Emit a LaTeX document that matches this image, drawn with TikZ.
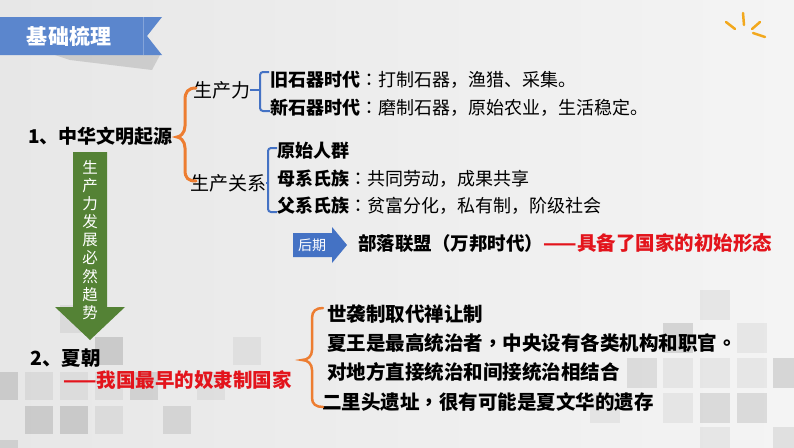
\documentclass[tikz,border=0pt]{standalone}
\usepackage{fontspec}
\setmainfont{Noto Sans CJK SC}
\newfontfamily\tcfont{Noto Sans CJK SC}[Script=CJK, Language=Chinese Traditional]
\usetikzlibrary{positioning,calc}
\definecolor{bgleft}{HTML}{E7E7E7}
\definecolor{bgright}{HTML}{F4F4F4}
\definecolor{bannerblue}{HTML}{5B86CD}
\definecolor{braceorange}{HTML}{ED7D31}
\definecolor{braceblue}{HTML}{4472C4}
\definecolor{arrowgreen}{HTML}{548235}
\definecolor{redc}{HTML}{E3141C}
\definecolor{sparkc}{HTML}{F2A81D}
\tikzset{
  txt/.style={anchor=west, inner sep=0pt},
  hd/.style={txt, font=\bfseries\fontsize{19}{19}\selectfont},
  sub/.style={txt, font=\fontsize{19}{19}\selectfont},
  item/.style={txt, font=\fontsize{18}{18}\selectfont},
  xia/.style={txt, font=\bfseries\fontsize{19.5}{19.5}\selectfont},
  redtxt/.style={txt, text=redc, font=\bfseries\fontsize{19.5}{19.5}\selectfont},
  obrace/.style={draw=braceorange, line width=3pt, line cap=round},
  bbrace/.style={draw=braceblue, line width=2pt, rounded corners=3pt}
}
\begin{document}
\begin{tikzpicture}[x=1pt,y=-1pt]
  \useasboundingbox (0,0) rectangle (794,447);
  % background and squares
  \shade[left color=bgleft, right color=bgright] (0,0) rectangle (794,447);
  \foreach \x/\y/\o in {25/372/.06, 60/305/.06, 95/337/.13, -10/372/.12, 60/372/.05,
      95/372/.05, 130/372/.10, 197/372/.05, 25/406/.12, 60/406/.13, 95/406/.06,
      163/406/.09, -10/440/.10, 233/337/.05}
    \fill[black, opacity=\o] (\x,\y) rectangle ++(28,28);
  \foreach \x/\y/\o in {700/290/.05, 663/323/.12, 737/323/.05, 627/358/.09, 663/358/.05,
      700/358/.05, 737/358/.05, 773/358/.12, 590/393/.05, 663/393/.05, 700/393/.10,
      737/393/.10, 700/427/.05, 773/427/.08}
    \fill[black, opacity=\o] (\x,\y) rectangle ++(30,30);
  % title banner
  \fill[black, opacity=.12] (55,55) -- (160,55) -- (152,70) -- (70,60) -- cycle;
  \fill[bannerblue] (0,17) -- (162,17) -- (147,36) -- (162,55) -- (0,55) -- cycle;
  \draw[white, opacity=.25, line width=.8pt] (143,17) -- (143,55);
  \node[font=\bfseries\fontsize{21}{21}\selectfont, text=white, inner sep=0pt] (title) at (69,36) {基础梳理};
  % sparkle
  \foreach \a/\b in {{(726,22)}/{(735,29)}, {(743,13)}/{(744,25)}, {(752,29)}/{(760,22)}, {(753,33)}/{(765,37)}}
    \draw[sparkc, line width=2.5pt, line cap=round] \a -- \b;
  % part 1
  \node[hd] (origin) at (28,136) {1、中华文明起源};
  \node[sub] (scl) at (193,90) {生产力};
  \node[sub] (scgx) at (190,183) {生产关系};
  \node[item] (jsq) at (270,80) {{\bfseries 旧石器时代}{\tcfont ：}打制石器，渔猎、采集。};
  \node[item] (xsq) at (270,108) {{\bfseries 新石器时代}{\tcfont ：}磨制石器，原始农业，生活稳定。};
  \node[item] (ysrq) at (277,151) {\bfseries 原始人群};
  \node[item] (mxsz) at (277,179) {{\bfseries 母系氏族}{\tcfont ：}共同劳动，成果共享};
  \node[item] (fxsz) at (277,206) {{\bfseries 父系氏族}{\tcfont ：}贫富分化，私有制，阶级社会};
  % braces of part 1
  \draw[obrace] ($(scl.west)+(3,-2)$) .. controls (188,88) and (185,92) .. (185,100) -- (185,126)
    .. controls (185,133) and (180,137) .. ($(origin.east)+(4,1)$)
    .. controls (180,137) and (185,141) .. (185,148) -- (185,170)
    .. controls (185,178) and (188,181) .. ($(scgx.west)+(6,-2)$);
  \coordinate (b1) at ($(jsq.west)+(-10,0)$);
  \draw[bbrace] ($(jsq.west)+(-1,-8)$) -| ($(xsq.west)+(-10,3)$) -- ($(xsq.west)+(0,3)$);
  \draw[braceblue, line width=2pt] (scl.east) -- (scl.east -| b1);
  \coordinate (b2) at ($(ysrq.west)+(-9,0)$);
  \draw[bbrace] ($(ysrq.west)+(0,-3)$) -| ($(fxsz.west)+(-9,6)$) -- ($(fxsz.west)+(0,6)$);
  \draw[braceblue, line width=2pt] (scgx.east) -- (scgx.east -| b2);
  % later period
  \fill[braceblue] (293,233) -- (332,233) -- (332,227) -- (347,245) -- (332,263) -- (332,257) -- (293,257) -- cycle;
  \node[text=white, inner sep=0pt, font=\fontsize{14}{14}\selectfont] (hq) at (312,245) {后期};
  \node[hd, font=\bfseries\fontsize{18.5}{18.5}\selectfont] (blm) at (358,243) {部落联盟（万邦时代）};
  \node[redtxt, right=0pt of blm] (gjxt) {——具备了国家的初始形态};
  % trend arrow
  \fill[arrowgreen] (73,152) -- (107,152) -- (107,307) -- (125,307) -- (90,340) -- (55,307) -- (73,307) -- cycle;
  \node[text=white, inner sep=0pt, align=center, font=\fontsize{15.5}{18.1}\selectfont] (trend) at (90,240)
    {生\\产\\力\\发\\展\\必\\然\\趋\\势};
  % part 2
  \node[hd, font=\bfseries\fontsize{19.5}{19.5}\selectfont] (xc) at (30,358) {2、夏朝};
  \node[redtxt] (xdef) at (63,380) {——我国最早的奴隶制国家};
  \node[xia] (x1) at (327,314) {世袭制取代禅让制};
  \node[xia] (x2) at (327,343) {夏王是最高统治者{\tcfont ，}中央设有各类机构和职官{\tcfont 。}};
  \node[xia] (x3) at (327,372) {对地方直接统治和间接统治相结合};
  \node[xia] (x4) at (322,402) {二里头遗址{\tcfont ，}很有可能是夏文华的遗存};
  \draw[obrace, line width=2.5pt] ($(x1.west)+(-4,-6)$) .. controls (316,308) and (312,311) .. (312,318) -- (312,350)
    .. controls (312,356) and (308,360) .. (302,360)
    .. controls (308,360) and (312,364) .. (312,370) -- (312,398)
    .. controls (312,404) and (316,407) .. ($(x4.west)+(1,5)$);
\end{tikzpicture}
\end{document}
